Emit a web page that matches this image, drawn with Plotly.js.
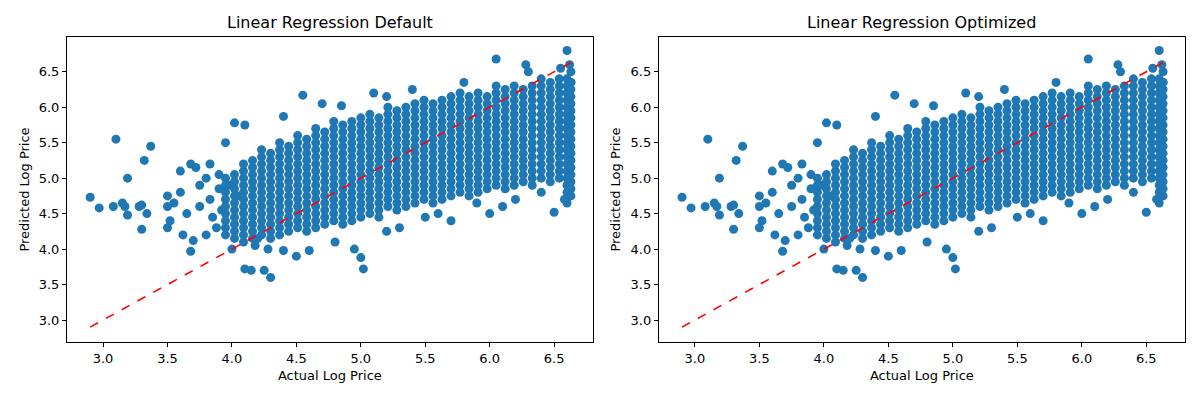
<!DOCTYPE html>
<html>
<head>
<meta charset="utf-8">
<script src="https://cdn.plot.ly/plotly-3.0.1.min.js"></script>
<style>body{margin:0}#plot{width:1200px;height:400px}</style>
</head>
<body>
<div id="plot"></div>
<script>
// dense core, one column of predicted values per actual value
const coreX = [3.95,4.02,4.09,4.16,4.23,4.30,4.37,4.44,4.51,4.58,4.65,4.72,4.79,4.86,4.93,5.00,5.07,5.14,5.21,5.28,5.35,5.42,5.49,5.56,5.63,5.70,5.77,5.84,5.91,5.98,6.05,6.12,6.19,6.26,6.33,6.40,6.47,6.54,6.60,6.63]
const coreY = [
  [4.2,4.3,4.4,4.5,4.6,4.7,4.8,4.9,5.0],
  [4.15,4.25,4.35,4.45,4.55,4.65,4.75,4.85,4.95,5.05],
  [4.1,4.2,4.3,4.4,4.5,4.6,4.7,4.8,4.9,5.0,5.1,5.2],
  [4.15,4.25,4.35,4.45,4.55,4.65,4.75,4.85,4.95,5.05,5.15,5.25],
  [4.2,4.3,4.4,4.5,4.6,4.7,4.8,4.9,5.0,5.1,5.2,5.3,5.4],
  [4.15,4.25,4.35,4.45,4.55,4.65,4.75,4.85,4.95,5.05,5.15,5.25,5.35],
  [4.2,4.3,4.4,4.5,4.6,4.7,4.8,4.9,5.0,5.1,5.2,5.3,5.4,5.5],
  [4.25,4.35,4.45,4.55,4.65,4.75,4.85,4.95,5.05,5.15,5.25,5.35,5.45],
  [4.3,4.4,4.5,4.6,4.7,4.8,4.9,5.0,5.1,5.2,5.3,5.4,5.5,5.6],
  [4.25,4.35,4.45,4.55,4.65,4.75,4.85,4.95,5.05,5.15,5.25,5.35,5.45,5.55],
  [4.3,4.4,4.5,4.6,4.7,4.8,4.9,5.0,5.1,5.2,5.3,5.4,5.5,5.6,5.7],
  [4.35,4.45,4.55,4.65,4.75,4.85,4.95,5.05,5.15,5.25,5.35,5.45,5.55,5.65],
  [4.4,4.5,4.6,4.7,4.8,4.9,5.0,5.1,5.2,5.3,5.4,5.5,5.6,5.7,5.8],
  [4.35,4.45,4.55,4.65,4.75,4.85,4.95,5.05,5.15,5.25,5.35,5.45,5.55,5.65,5.75],
  [4.4,4.5,4.6,4.7,4.8,4.9,5.0,5.1,5.2,5.3,5.4,5.5,5.6,5.7,5.8],
  [4.45,4.55,4.65,4.75,4.85,4.95,5.05,5.15,5.25,5.35,5.45,5.55,5.65,5.75,5.85],
  [4.5,4.6,4.7,4.8,4.9,5.0,5.1,5.2,5.3,5.4,5.5,5.6,5.7,5.8,5.9],
  [4.45,4.55,4.65,4.75,4.85,4.95,5.05,5.15,5.25,5.35,5.45,5.55,5.65,5.75,5.85],
  [4.6,4.7,4.8,4.9,5.0,5.1,5.2,5.3,5.4,5.5,5.6,5.7,5.8,5.9,6.0],
  [4.55,4.65,4.75,4.85,4.95,5.05,5.15,5.25,5.35,5.45,5.55,5.65,5.75,5.85,5.95],
  [4.6,4.7,4.8,4.9,5.0,5.1,5.2,5.3,5.4,5.5,5.6,5.7,5.8,5.9,6.0],
  [4.65,4.75,4.85,4.95,5.05,5.15,5.25,5.35,5.45,5.55,5.65,5.75,5.85,5.95,6.05],
  [4.7,4.8,4.9,5.0,5.1,5.2,5.3,5.4,5.5,5.6,5.7,5.8,5.9,6.0,6.1],
  [4.65,4.75,4.85,4.95,5.05,5.15,5.25,5.35,5.45,5.55,5.65,5.75,5.85,5.95,6.05],
  [4.7,4.8,4.9,5.0,5.1,5.2,5.3,5.4,5.5,5.6,5.7,5.8,5.9,6.0,6.1],
  [4.75,4.85,4.95,5.05,5.15,5.25,5.35,5.45,5.55,5.65,5.75,5.85,5.95,6.05,6.15],
  [4.8,4.9,5.0,5.1,5.2,5.3,5.4,5.5,5.6,5.7,5.8,5.9,6.0,6.1,6.2],
  [4.75,4.85,4.95,5.05,5.15,5.25,5.35,5.45,5.55,5.65,5.75,5.85,5.95,6.05,6.15],
  [4.8,4.9,5.0,5.1,5.2,5.3,5.4,5.5,5.6,5.7,5.8,5.9,6.0,6.1,6.2],
  [4.85,4.95,5.05,5.15,5.25,5.35,5.45,5.55,5.65,5.75,5.85,5.95,6.05,6.15],
  [4.9,5.0,5.1,5.2,5.3,5.4,5.5,5.6,5.7,5.8,5.9,6.0,6.1,6.2,6.3],
  [4.85,4.95,5.05,5.15,5.25,5.35,5.45,5.55,5.65,5.75,5.85,5.95,6.05,6.15,6.25],
  [4.9,5.0,5.1,5.2,5.3,5.4,5.5,5.6,5.7,5.8,5.9,6.0,6.1,6.2,6.3],
  [4.95,5.05,5.15,5.25,5.35,5.45,5.55,5.65,5.75,5.85,5.95,6.05,6.15,6.25],
  [4.9,5.0,5.1,5.2,5.3,5.4,5.5,5.6,5.7,5.8,5.9,6.0,6.1,6.2,6.3],
  [5.0,5.1,5.2,5.3,5.4,5.5,5.6,5.7,5.8,5.9,6.0,6.1,6.2,6.3,6.4],
  [4.95,5.05,5.15,5.25,5.35,5.45,5.55,5.65,5.75,5.85,5.95,6.05,6.15,6.25,6.35],
  [5.0,5.1,5.2,5.3,5.4,5.5,5.6,5.7,5.8,5.9,6.0,6.1,6.2,6.3,6.4],
  [4.8,4.9,5.0,5.1,5.2,5.3,5.4,5.5,5.6,5.7,5.8,5.9,6.0,6.1,6.2,6.3,6.4],
  [4.75,4.85,4.95,5.05,5.15,5.25,5.35,5.45,5.55,5.65,5.75,5.85,5.95,6.05,6.15,6.25,6.35,6.5]
]
// scattered points outside the core
const sparseX = [2.9,2.97,3.08,3.1,3.15,3.17,3.19,3.19,3.28,3.3,3.3,3.32,3.34,3.37,3.5,3.5,3.5,3.52,3.55,3.6,3.62,3.65,3.68,3.68,3.72,3.7,3.75,3.8,3.83,3.83,3.9,3.92,3.95,4.0,4.02,4.05,4.1,4.15,4.18,4.25,4.3,4.28,4.4,4.4,4.5,4.55,4.6,4.8,4.85,4.95,5.0,5.02,5.1,5.2,5.3,5.4,5.5,5.7,5.8,6.05,6.0,6.1,6.2,6.28,6.4,6.5,6.6,6.62,6.6,6.58,3.8,3.9,3.85,4.1,4.2,6.3,6.55,6.63,5.6,5.9,4.7,5.2,3.6,3.75,3.88,3.98]
const sparseY = [4.73,4.58,4.6,5.55,4.65,4.6,4.48,5.0,4.6,4.62,4.28,5.25,4.5,5.45,4.75,4.6,4.3,4.4,4.65,5.1,4.2,4.5,3.97,5.2,5.15,4.12,4.9,4.2,5.2,4.7,5.05,4.55,5.5,4.0,5.78,4.75,3.72,3.7,4.05,3.7,3.6,4.0,5.87,3.98,3.9,6.17,3.98,4.1,6.02,4.0,3.88,3.72,6.2,4.25,4.3,6.25,4.45,4.4,6.35,6.68,4.5,4.6,4.7,6.6,4.8,4.52,6.8,6.6,4.65,4.7,5.0,4.85,4.45,5.75,4.15,6.5,6.55,6.35,4.5,4.65,6.05,6.15,4.8,4.6,4.3,4.9]
const idealLine = [2.9, 6.63]
const titles = ["Linear Regression Default", "Linear Regression Optimized"]

const ptsX = sparseX.slice(), ptsY = sparseY.slice()
coreX.forEach((x, i) => coreY[i].forEach(y => { ptsX.push(x); ptsY.push(y) }))

const font = { family: "DejaVu Sans", size: 13, color: "#000" }
const data = [], annotations = []
const layout = {
  width: 1200, height: 400, margin: { l: 0, r: 0, t: 0, b: 0 },
  showlegend: false, paper_bgcolor: "#fff", plot_bgcolor: "#fff", font: font
}
const domains = [[0.0558, 0.494], [0.549, 0.9875]]
titles.forEach((t, k) => {
  const s = k === 0 ? "" : "2"
  data.push({ x: ptsX, y: ptsY, xaxis: "x" + s, yaxis: "y" + s, type: "scatter", mode: "markers",
    marker: { color: "#1f77b4", size: 9 }, hoverinfo: "skip" })
  data.push({ x: idealLine, y: idealLine, xaxis: "x" + s, yaxis: "y" + s, type: "scatter", mode: "lines",
    line: { color: "red", dash: "dash", width: 1.6 } })
  const ax = { showline: true, mirror: true, linecolor: "#000", linewidth: 1, showgrid: false, zeroline: false,
    ticks: "outside", ticklen: 4, tickcolor: "#000", tickfont: font }
  layout["xaxis" + s] = Object.assign({}, ax, { domain: domains[k], range: [2.72, 6.80], dtick: 0.5, tickformat: ".1f",
    anchor: "y" + s, title: { text: "Actual Log Price", font: font, standoff: 6 } })
  layout["yaxis" + s] = Object.assign({}, ax, { domain: [0.145, 0.9075], range: [2.69, 6.99], dtick: 0.5, tickformat: ".1f",
    anchor: "x" + s, title: { text: "Predicted Log Price", font: font, standoff: 6 } })
  annotations.push({ text: t, xref: "paper", yref: "paper", x: (domains[k][0] + domains[k][1]) / 2, y: 0.945,
    xanchor: "center", yanchor: "middle",
    showarrow: false, font: { family: "DejaVu Sans", size: 16, color: "#000" } })
})
layout.annotations = annotations

Plotly.newPlot("plot", data, layout, { displayModeBar: false, staticPlot: true })
</script>
</body>
</html>
